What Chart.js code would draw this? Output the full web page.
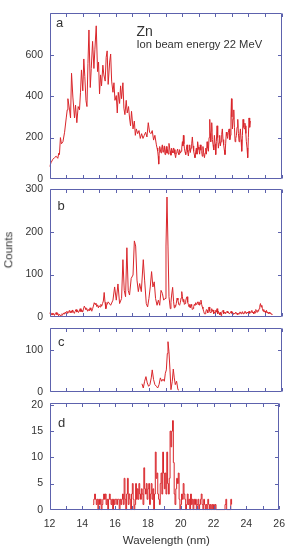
<!DOCTYPE html>
<html><head><meta charset="utf-8">
<script src="https://cdn.jsdelivr.net/npm/chart.js@4"></script>
<style>
html,body{margin:0;padding:0;background:#fff;}
#wrap{position:relative;width:293px;height:550px;overflow:hidden;font-family:"Liberation Sans",Arial,sans-serif;color:#333;}
canvas{position:absolute;left:0;}
.t{position:absolute;white-space:nowrap;line-height:1;}
</style></head><body>
<div id="wrap">
<canvas id="ca" width="293" height="200" style="top:0px"></canvas>
<canvas id="cb" width="293" height="160" style="top:170px"></canvas>
<canvas id="cc" width="293" height="90" style="top:315px"></canvas>
<canvas id="cd" width="293" height="160" style="top:390px"></canvas>
<div class="t" style="left:56px;top:16.3px;font-size:13px;">a</div>
<div class="t" style="left:57.5px;top:199px;font-size:13px;">b</div>
<div class="t" style="left:58px;top:335px;font-size:13px;">c</div>
<div class="t" style="left:58px;top:415.7px;font-size:13px;">d</div>
<div class="t" style="left:136.5px;top:23.9px;font-size:14px;">Zn</div>
<div class="t" style="left:136.5px;top:38.7px;font-size:11.2px;">Ion beam energy 22 MeV</div>
<div class="t" style="left:8.5px;top:250px;font-size:11.5px;transform:translate(-50%,-50%) rotate(-90deg);">Counts</div>
<div class="t" style="left:166.3px;top:535.2px;font-size:11.5px;transform:translateX(-50%);">Wavelength (nm)</div>
</div>
<script>
// ---------- data ----------
const xTickLabels = [12,14,16,18,20,22,24,26];
const xMinorTicks = [12,13,14,15,16,17,18,19,20,21,22,23,24,25,26];

const aYTicks = [0,200,400,600];
const bYTicks = [0,100,200,300];
const cYTicks = [0,100];
const dYTicks = [0,5,10,15,20];

const aX = [12.0,12.1,12.2,12.3,12.4,12.5,12.56,12.6,12.66,12.72,12.81,12.91,13.01,13.07,13.11,13.21,13.27,13.33,13.41,13.51,13.57,13.65,13.73,13.81,13.87,13.93,14.01,14.07,14.13,14.2,14.26,14.32,14.38,14.46,14.52,14.6,14.68,14.74,14.82,14.9,14.96,15.02,15.08,15.14,15.22,15.28,15.36,15.42,15.48,15.54,15.63,15.69,15.75,15.83,15.89,15.95,16.03,16.09,16.15,16.23,16.29,16.35,16.43,16.49,16.55,16.63,16.69,16.77,16.83,16.89,16.95,17.04,17.12,17.18,17.24,17.32,17.4,17.48,17.56,17.64,17.72,17.8,17.88,17.96,18.04,18.12,18.2,18.28,18.36,
  18.45,18.49,18.53,18.56,18.59,18.62,18.65,18.69,18.73,18.77,18.81,18.85,18.89,18.93,18.97,19.01,19.05,19.09,19.13,19.17,19.21,19.25,19.29,19.33,19.37,19.41,19.45,19.49,19.53,19.57,19.61,19.65,19.69,19.73,19.77,19.81,19.85,19.9,19.94,19.98,20.02,20.05,20.08,20.11,20.14,20.18,20.22,20.26,20.3,20.34,20.38,20.42,20.46,20.5,20.54,20.58,20.62,20.66,20.7,20.74,20.78,20.82,20.86,20.9,20.94,20.98,21.02,21.06,21.1,21.14,21.18,21.22,21.26,21.3,21.35,21.39,21.43,21.47,21.51,21.55,21.59,21.63,21.67,21.7,21.73,21.76,21.79,21.83,21.87,21.91,21.95,21.99,22.03,22.07,22.11,22.15,22.19,22.23,22.27,22.31,22.35,22.39,22.43,22.47,22.51,22.55,22.59,22.63,22.67,22.71,22.75,22.79,22.84,22.88,22.92,22.95,22.98,23.01,23.04,23.08,23.12,23.16,23.2,23.24,23.28,23.32,23.36,23.4,23.44,23.48,23.52,23.56,23.6,23.64,23.68,23.72,23.76,23.79,23.82,23.85,23.88,23.92,23.96,24.0,24.04,24.08,24.12];
const aY = [60,80,95,103,110,100,125,118,200,170,180,226,295,334,388,334,295,511,396,295,357,272,350,334,419,527,426,580,496,380,350,557,720,442,534,665,534,627,740,519,565,411,503,450,550,503,473,588,619,457,565,604,473,419,465,380,403,319,419,365,450,388,465,342,311,380,319,350,295,257,327,242,280,211,242,219,234,196,219,196,211,226,203,272,226,219,234,188,211,
  165,150,134,110,72,130,157,140,126,150,165,130,142,160,118,135,157,125,142,120,172,150,134,115,149,135,126,150,142,120,103,125,134,145,126,118,142,125,134,150,180,160,211,170,149,130,118,145,165,130,111,140,165,128,149,170,203,160,134,118,103,130,149,120,180,155,142,120,165,140,134,110,157,130,103,125,149,120,180,150,134,200,288,220,180,230,272,190,165,140,211,170,118,180,257,200,149,175,211,160,180,215,242,190,165,140,118,170,226,210,196,225,242,190,211,300,388,300,242,290,334,250,180,195,211,250,288,220,180,210,242,190,134,210,288,250,242,270,257,220,180,150,103,200,295,250,280];

const bX = [12.0,12.05,12.1,12.15,12.2,12.25,12.3,12.35,12.4,12.45,12.5,12.55,12.6,12.65,12.7,12.75,12.8,12.85,12.9,12.95,13.0,13.05,13.1,13.15,13.2,13.25,13.3,13.35,13.4,13.45,13.5,13.55,13.6,13.65,13.7,13.75,13.8,13.85,13.9,13.95,14.0,14.05,14.1,14.15,14.2,14.25,14.3,14.35,14.4,14.45,14.5,14.55,14.6,14.65,14.7,14.75,14.8,14.85,14.9,14.95,15.0,15.05,15.1,15.15,15.2,15.25,15.3,15.35,15.4,15.45,
  15.54,15.69,15.83,15.93,16.03,16.13,16.23,16.35,16.43,16.51,16.59,16.67,16.75,16.83,16.93,17.04,17.12,17.2,17.28,17.36,17.44,17.54,17.66,17.74,17.84,17.92,18.0,18.08,18.16,18.24,18.32,18.4,18.49,18.57,18.65,18.73,18.81,18.89,18.97,19.03,19.09,19.15,19.21,
  19.29,19.33,19.37,19.43,19.49,19.53,19.57,19.61,19.65,19.7,19.75,19.8,19.85,19.9,19.94,19.98,20.02,20.06,20.1,20.14,20.18,20.22,20.26,20.3,20.34,20.38,20.42,20.46,20.5,20.54,20.58,20.62,20.66,20.7,20.74,20.78,20.82,20.86,20.9,20.94,20.98,21.02,21.06,21.1,21.14,21.18,21.22,21.26,21.3,21.35,21.39,21.43,21.47,21.51,21.55,21.59,21.63,21.67,21.71,21.75,21.79,21.83,21.87,21.91,21.95,21.99,22.03,22.07,22.11,22.15,22.19,22.23,22.27,22.31,22.35,22.39,22.43,22.47,22.51,22.55,22.59,22.63,22.67,22.72,22.76,22.8,22.84,22.88,22.92,22.96,23.0,23.04,23.08,23.12,23.16,23.2,23.24,23.28,23.32,23.36,23.4,23.44,23.48,23.52,23.56,23.6,23.64,23.68,23.72,23.76,23.8,23.84,23.88,23.92,23.96,24.0,24.04,24.08,24.12,24.17,24.21,24.25,24.29,24.33,24.37,24.41,24.45,24.49,24.53,24.57,24.61,24.65,24.69,24.73,24.77,24.81,24.85,24.89,24.93,24.97,25.01,25.05,25.09,25.13,25.17,25.21,25.25,25.29,25.33,25.37,25.41,25.45];
const bY = [8,12,6,10,5,9,4,8,11,6,9,3,7,5,2,8,6,10,7,12,8,14,9,12,16,10,15,11,17,12,9,14,18,12,16,11,14,20,13,17,12,19,26,22,18,20,14,18,15,22,17,14,20,26,34,30,33,25,29,22,27,24,30,26,32,38,58,35,20,28,
  36,28,40,71,40,78,32,44,135,63,48,163,63,52,91,99,179,167,87,60,79,60,135,87,32,24,44,71,107,71,83,44,28,40,28,63,56,40,44,167,282,167,48,
  20,35,52,70,36,22,28,25,32,45,40,30,28,35,45,60,48,36,42,30,32,38,45,48,35,30,24,30,22,30,26,18,20,25,30,28,34,30,32,36,30,36,28,32,40,30,24,20,14,8,8,12,18,16,10,20,24,14,10,12,20,14,17,8,12,10,16,12,20,8,14,10,6,12,4,10,14,16,8,12,10,8,12,14,10,12,8,8,10,14,9,12,7,10,8,10,12,7,9,6,9,8,12,12,8,10,13,8,10,9,14,14,8,12,10,10,14,9,12,12,16,10,12,8,14,10,18,14,12,16,14,20,26,32,24,28,20,14,18,12,14,10,16,12,10,8,12,9,10,7,8,6];

const cX = [17.58,17.66,17.74,17.82,17.9,17.98,18.06,18.14,18.2,18.28,18.36,18.45,18.53,18.61,18.69,18.77,18.85,18.93,18.99,19.05,19.11,19.15,19.21,19.27,19.33,19.41,19.47,19.53,19.59,19.67,19.75,19.81];
const cY = [20,10,26,37,22,14,18,34,53,30,18,14,10,18,34,26,31,26,45,53,92,120,96,53,6,26,55,34,18,26,6,5];

const dX = [14.65,14.7,14.75,14.8,14.85,14.9,14.95,15.0,15.05,15.1,15.15,15.2,15.25,15.3,15.35,15.4,15.45,15.5,15.55,15.6,15.65,15.7,15.75,15.8,15.85,15.9,15.95,16.0,16.05,16.1,16.15,16.2,16.25,16.3,16.35,16.4,16.45,16.5,16.55,16.6,16.65,16.7,16.75,16.8,16.85,16.9,16.95,17.0,17.05,17.1,17.15,17.2,17.25,17.3,17.35,17.4,17.45,17.5,17.55,17.6,17.65,17.7,17.75,17.8,17.85,17.9,17.95,18.0,18.05,18.1,18.15,18.2,18.25,18.3,18.35,18.4,18.45,18.5,18.55,18.6,18.65,18.7,18.75,18.8,18.85,18.9,18.95,19.0,19.05,19.1,19.15,19.2,19.25,19.3,19.35,19.4,19.45,19.5,19.55,19.6,19.65,19.7,19.75,19.8,19.85,19.9,19.95,20.0,20.05,20.1,20.15,20.2,20.25,20.3,20.35,20.4,20.45,20.5,20.55,20.6,20.65,20.7,20.75,20.8,20.85,20.9,20.95,21.0,21.05,21.1,21.15,21.2,21.25,21.3,21.35,21.4,21.45,21.5,21.55,21.6,21.65,21.7,21.75,21.8,21.85,21.9,21.95,22.0,22.05,22.1,22.15,22.65,22.7,22.75,22.8,23.0,23.05,23.1];
const dY = [1,2,3,2,1,2,0,2,1,2,0,1,2,3,2,3,1,2,0,2,3,2,1,2,0,2,1,2,2,1,2,2,0,2,1,2,3,1,6,2,0,3,6,1,3,2,0,3,5,2,0,1,5,2,4,2,5,3,2,4,3,1,8,4,3,5,2,4,5,1,3,5,2,4,0,3,11,6,7,3,2,1,5,7,3,11,7,4,7,3,11,5,3,6,15,12,15,17,9,3,1,4,6,5,7,2,0,1,3,2,5,3,2,0,1,3,1,2,0,3,1,2,0,2,1,2,0,1,2,0,1,2,3,1,0,2,1,0,1,0,2,1,0,1,0,1,0,1,0,1,0,0,1,2,0,0,2,1];

// ---------- style ----------
const FRAME = '#5d62ad';
const RED = '#d9262b';
const TXT = '#333333';
const FONT = '"Liberation Sans", Arial, sans-serif';

const framePlugin = {
  id: 'frame',
  afterDraw(chart) {
    const {ctx, chartArea: a, scales} = chart;
    const x = scales.x, y = scales.y;
    ctx.save();
    ctx.strokeStyle = FRAME;
    ctx.lineWidth = 1;
    const L = Math.round(a.left) + 0.5, R = Math.round(a.right) - 0.5;
    const T = Math.round(a.top) + 0.5, B = Math.round(a.bottom) - 0.5;
    ctx.beginPath();
    ctx.rect(L, T, R - L, B - T);
    xMinorTicks.forEach(v => {
      const px = Math.round(x.getPixelForValue(v)) + 0.5;
      ctx.moveTo(px, T); ctx.lineTo(px, T + 3.5);
      ctx.moveTo(px, B); ctx.lineTo(px, B - 3.5);
    });
    y.ticks.forEach(t => {
      const py = Math.round(y.getPixelForValue(t.value)) + 0.5;
      if (py <= T + 1 || py >= B - 1) return;
      ctx.moveTo(L, py); ctx.lineTo(L + 3.5, py);
      ctx.moveTo(R, py); ctx.lineTo(R - 3.5, py);
    });
    ctx.stroke();
    ctx.restore();
  }
};

function pts(xs, ys) { return xs.map((v, i) => ({x: v, y: ys[i]})); }

function makeChart(id, xs, ys, yTicks, yMin, yMax, pad, showX, stepped) {
  return new Chart(document.getElementById(id), {
    type: 'line',
    data: { datasets: [{
      data: pts(xs, ys),
      borderColor: RED, borderWidth: 1, pointRadius: 0, fill: false,
      tension: 0, stepped: stepped ? true : false
    }]},
    options: {
      responsive: false, animation: false, events: [],
      layout: { padding: pad },
      plugins: { legend: {display: false}, tooltip: {enabled: false}, title: {display: false} },
      scales: {
        x: {
          type: 'linear', min: 12, max: 26,
          grid: {display: false, drawTicks: false}, border: {display: false},
          afterBuildTicks: s => { s.ticks = xTickLabels.map(v => ({value: v})); },
          afterFit: s => { s.height = showX ? 20 : 0; },
          ticks: { display: showX, padding: 8, color: TXT, font: {family: FONT, size: 10.5}, maxRotation: 0, autoSkip: false }
        },
        y: {
          type: 'linear', min: yMin, max: yMax,
          grid: {display: false, drawTicks: false}, border: {display: false},
          afterBuildTicks: s => { s.ticks = yTicks.map(v => ({value: v})); },
          afterFit: s => { s.width = 49.5; },
          ticks: { padding: 6.5, color: TXT, font: {family: FONT, size: 10.5}, autoSkip: false }
        }
      }
    },
    plugins: [framePlugin]
  });
}

makeChart('ca', aX, aY, aYTicks, 0, 803, {left: 0, right: 11.5, top: 5, bottom: 21}, false, false);
makeChart('cb', bX, bY, bYTicks, 0, 302, {left: 0, right: 11.5, top: 18.5, bottom: 12.7}, false, false);
makeChart('cc', cX, cY, cYTicks, 0, 153, {left: 0, right: 11.5, top: 12.3, bottom: 11.7}, false, false);
makeChart('cd', dX, dY, dYTicks, -0.1, 20.4, {left: 0, right: 11.5, top: 12.3, bottom: 19.7}, true, true);
</script>
</body></html>
